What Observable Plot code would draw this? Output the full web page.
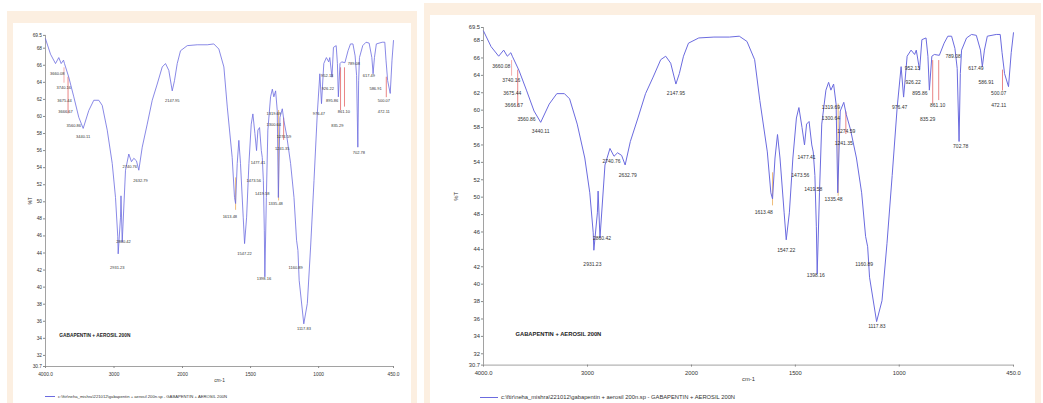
<!DOCTYPE html>
<html>
<head>
<meta charset="utf-8">
<script src="https://cdn.jsdelivr.net/npm/d3@7"></script>
<script src="https://cdn.jsdelivr.net/npm/@observablehq/plot@0.6"></script>
<style>
  html, body { margin: 0; padding: 0; background: #ffffff; width: 1043px; height: 403px; overflow: hidden; font-family: "Liberation Sans", Arial, sans-serif; }
  .frame { position: absolute; background: #fcefe1; }
  .inner { position: absolute; background: #ffffff; }
  .chart { position: absolute; }
  .legend { position: absolute; color: #333; white-space: nowrap; display: flex; align-items: center; }
  .legend .sw { display: inline-block; height: 0; border-top: 1px solid #6b6bdf; margin-right: 3px; }
</style>
</head>
<body>
<div class="frame" style="left:7px; top:11px; width:410px; height:392px;"></div>
<div class="inner" style="left:13px; top:23px; width:398px; height:380px;"></div>
<div class="frame" style="left:424px; top:3px; width:617px; height:400px;"></div>
<div class="inner" style="left:430px; top:15px; width:605px; height:388px;"></div>
<div id="left" class="chart" style="left:13px; top:23px;"></div>
<div id="right" class="chart" style="left:430px; top:15px;"></div>
<div class="legend" id="legL" style="left:45px; top:394px; font-size:4.2px;"><span class="sw" style="width:10px"></span><span class="txt"></span></div>
<div class="legend" id="legR" style="left:480px; top:394px; font-size:5.8px;"><span class="sw" style="width:18px"></span><span class="txt"></span></div>
<script>
// ---- spectrum (wavenumber cm-1, %T) ----
const wavenumber = [4000,3927,3854,3806,3771,3737,3723,3660,3587,3514,3450,3368,3295,3222,3172,3099,3026,2978,2945,2939,2905,2898,2880,2832,2784,2745,2711,2672,2638,2588,2515,2442,2369,2296,2248,2200,2150,2117,2077,2029,1965,1892,1818,1770,1733,1696,1671,1635,1618,1610,1598,1586,1574,1554,1544,1529,1512,1495,1483,1468,1456,1446,1434,1421,1414,1406,1399,1395,1384,1373,1353,1340,1329,1316,1304,1296,1284,1267,1255,1235,1206,1181,1162,1152,1143,1109,1083,1059,1034,1010,991,979,962,943,926,918,902,891,871,862,855,843,831,807,784,766,748,732,721,712,706,700,676,652,629,609,600,590,576,533,514,505,493,474,461,450];
const transmittance = [69.1,67.3,66.2,66.9,66.2,66.6,66.2,64.6,62.3,59.9,58.6,60.7,61.9,61.9,61.3,58.4,54.5,50.5,45.9,43.9,48.2,50.7,45.3,53.7,55.6,54.7,55.1,54.8,53.7,56.4,59.1,61.9,63.8,65.8,66.2,65.4,63.0,64.2,66.2,67.7,68.3,68.4,68.4,68.5,67.9,65.8,61.1,55.2,50.5,49.8,54.5,57.2,54.5,48.2,45.1,48.2,54.5,59.1,60.3,58.0,56.0,58.4,58.7,56.0,55.2,52.5,46.6,41.2,50.5,58.4,62.3,63.2,62.3,63.0,60.7,50.5,59.9,60.9,59.5,57.8,54.5,50.5,45.5,44.3,40.8,35.7,38.1,44.7,52.5,60.3,65.0,61.5,66.2,66.9,66.4,66.9,64.6,68.1,68.3,66.2,62.3,66.2,66.4,66.3,67.7,68.5,68.5,67.1,64.8,56.4,64.2,66.9,68.3,68.7,68.6,66.9,65.0,66.9,68.5,68.7,68.7,66.6,64.2,62.7,66.6,68.9];

// ---- peak labels ----
const peakLabels = ["3660.08","3740.16","3675.44","3666.67","3560.86","3440.11","2931.23","2860.42","2740.76","2632.79","2147.95","1613.48","1547.22","1473.56","1477.41","1419.58","1398.16","1319.69","1300.64","1335.48","1274.59","1241.35","1160.89","1117.83","976.47","952.13","926.22","895.86","861.10","835.29","789.08","702.78","617.49","586.91","500.07","472.11"];
const peakLabelWn = [3829,3733,3723,3708,3587,3450,2953,2861,2769,2613,2150,1652,1544,1476,1446,1414,1402,1329,1329,1316,1255,1267,1169,1108,998,937,933,901,815,863,741,704,631,582,521,521];
const peakLabelT = [65.0,63.4,61.9,60.5,58.9,57.6,42.3,45.3,54.1,52.5,61.9,48.2,43.9,52.5,54.6,50.9,41.0,60.3,59.0,49.8,57.6,56.2,42.3,35.1,60.3,64.8,63.2,61.9,60.5,58.9,66.2,55.8,64.8,63.2,61.9,60.5];

// ---- coloured marker lines ----
const guideWn = [3730,3671,1610,1294,1257,839,810,503];
const guideTop = [65.7,64.6,52.8,60.7,59.8,65.7,65.7,64.6];
const guideBottom = [63.9,60.3,49.0,50.1,57.2,60.7,61.1,62.2];
const guideColor = ["#f08a8a","#e05050","#e8a040","#e8a040","#e05050","#e05050","#e05050","#e05050"];

// ---- axes ----
const xTicks = [4000,3000,2000,1500,1000,450];
const xTickText = ["4000.0","3000","2000","1500","1000","450.0"];
const xBreaks = [4000,2000,450];
const yTicks = [30.7,32,34,36,38,40,42,44,46,48,50,52,54,56,58,60,62,64,66,68,69.5];
const yDomain = [30.7,69.5];
const sampleTitle = "GABAPENTIN + AEROSIL 200N";
const legendText = "c:\\ftir\\neha_mishra\\221012\\gabapentin + aerosil 200n.sp - GABAPENTIN + AEROSIL 200N";
const titleWn = [3280];
const titleT = [34.3];

const spectrum = wavenumber.map((w, i) => ({w, t: transmittance[i]}));
const peaks = peakLabels.map((s, i) => ({s, w: peakLabelWn[i], t: peakLabelT[i]}));
const guides = guideWn.map((w, i) => ({w, t1: guideTop[i], t2: guideBottom[i], c: guideColor[i]}));

function makeChart(o) {
  const xRange = [o.ml, o.mid, o.width - o.mr];
  return Plot.plot({
    width: o.width, height: o.height,
    marginLeft: o.ml, marginRight: o.mr, marginTop: o.mt, marginBottom: o.mb,
    style: {fontFamily: "Liberation Sans, Arial, sans-serif", fontSize: o.fs + "px", color: "#333", background: "transparent"},
    x: {type: "linear", domain: xBreaks, range: xRange},
    y: {domain: yDomain},
    marks: [
      Plot.ruleX([xBreaks[0]], {y1: yDomain[0], y2: yDomain[1], stroke: "#8a8a8a", strokeWidth: 0.8}),
      Plot.ruleY([yDomain[0]], {x1: xBreaks[0], x2: xBreaks[2], stroke: "#8a8a8a", strokeWidth: 0.8}),
      Plot.axisX({ticks: xTicks, tickFormat: (d, i) => xTickText[xTicks.indexOf(d)], tickSize: 2, tickPadding: o.xpad, fontSize: o.fs, stroke: "#8a8a8a",
        label: "cm-1", labelAnchor: "center", labelArrow: "none", labelOffset: o.xlo}),
      Plot.axisY({ticks: yTicks, tickFormat: d => String(d), tickSize: 2, tickPadding: 1.5, fontSize: o.fs, stroke: "#8a8a8a",
        label: "%T", labelAnchor: "center", labelArrow: "none", labelOffset: o.ylo}),
      Plot.ruleX(guides, {x: "w", y1: "t1", y2: "t2", stroke: "c", strokeWidth: 0.7}),
      Plot.line(spectrum, {x: "w", y: "t", stroke: "#6b6bdf", strokeWidth: o.sw, curve: "linear"}),
      Plot.text(peaks, {x: "w", y: "t", text: "s", fontSize: o.pfs, fill: "#333"}),
      Plot.text(titleWn, {x: d => d, y: (d, i) => titleT[i], text: () => sampleTitle, fontSize: o.fs, fontWeight: "bold", fill: "#222"})
    ]
  });
}

document.getElementById("left").append(makeChart({width: 397, height: 365, ml: 32, mr: 17, mt: 11.9, mb: 22, mid: 169, fs: 4.8, pfs: 4, sw: 0.8, xpad: 4, xlo: 15, ylo: 17}));
document.getElementById("right").append(makeChart({width: 605, height: 373, ml: 53, mr: 22, mt: 12, mb: 23.4, mid: 261, fs: 5.8, pfs: 5, sw: 1, xpad: 4, xlo: 16, ylo: 30}));
document.querySelector("#legL .txt").textContent = legendText;
document.querySelector("#legR .txt").textContent = legendText;
</script>
</body>
</html>
